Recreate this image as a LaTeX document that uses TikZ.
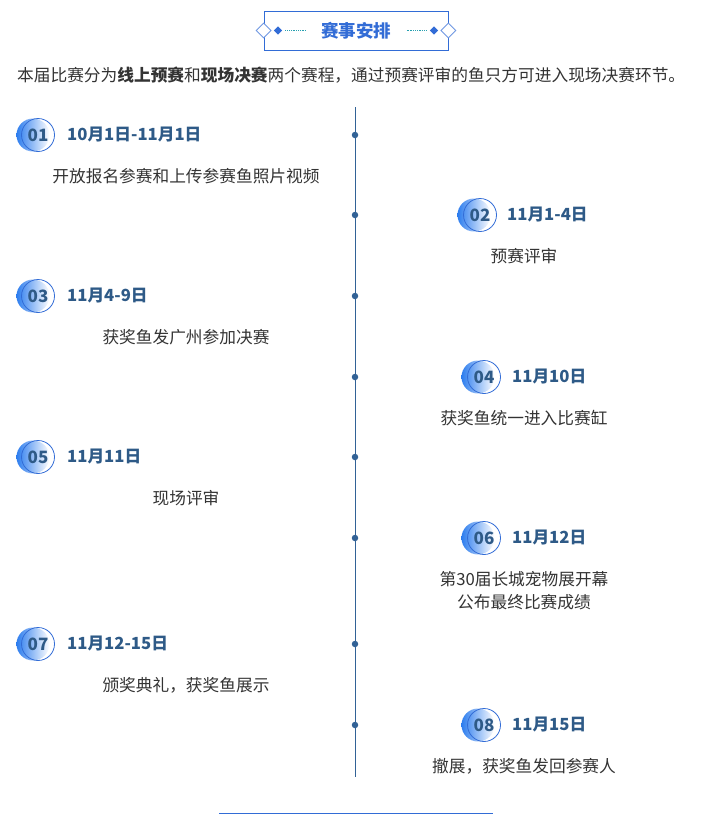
\documentclass[tikz,border=0pt]{standalone}
\usepackage{fontspec}
\setmainfont{Noto Sans CJK SC}
\usetikzlibrary{shapes.geometric,positioning}
\definecolor{titleblue}{RGB}{50,108,214}
\definecolor{darkslate}{RGB}{46,90,135}
\definecolor{badgeblue}{RGB}{45,125,238}
\definecolor{linesteel}{RGB}{50,98,150}
\definecolor{textgray}{RGB}{51,51,51}
\definecolor{dotteal}{RGB}{40,160,176}

\begin{document}
\begin{tikzpicture}[
x=1pt, y=-1pt,
every node/.style={font=\fontsize{16.7}{23}\selectfont, text=textgray, inner sep=0pt},
badge/.style={circle, minimum size=33pt, draw=titleblue, line width=0.8pt, text=darkslate, font=\fontsize{17}{17}\selectfont\bfseries},
datetext/.style={anchor=west, text=darkslate, font=\fontsize{16.7}{17}\selectfont\bfseries},
desctext/.style={align=center},
tick/.style={circle, fill=linesteel, minimum size=6.5pt},
framediamond/.style={diamond, draw=titleblue!70, fill=white, line width=0.9pt, minimum size=15pt},
smalldiamond/.style={diamond, fill=titleblue, minimum size=8.5pt}
]
\useasboundingbox (0,0) rectangle (705,815);

% Title

\node[draw=titleblue, line width=0.8pt, minimum width=184pt, minimum height=39pt] (title) at (356,30.5) {};
\node[text=titleblue, font=\fontsize{17.5}{18}\selectfont\bfseries] at (title) {赛事安排};
\node[framediamond] (DL) at (title.west) {};
\node[framediamond] (DR) at (title.east) {};
\node[smalldiamond] (dl) at (278,30.5) {};
\node[smalldiamond] (dr) at (434,30.5) {};
\draw[dotteal, densely dotted, line width=0.8pt] (dl.east) ++(3,0) -- ++(20,0);
\draw[dotteal, densely dotted, line width=0.8pt] (dr.west) ++(-3,0) -- ++(-20,0);

% Intro

\node[anchor=west] (intro) at (17,75) {本届比赛分为\textbf{线上预赛}和\textbf{现场决赛}两个赛程，通过预赛评审的鱼只方可进入现场决赛环节。};

% Timeline axis

\coordinate (axtop) at (355,107);
\coordinate (axbot) at (355,777);
\draw[linesteel, line width=1pt] (axtop) -- (axbot);
\node[tick] (T1) at (355,135) {};
\node[tick] (T2) at (355,215) {};
\node[tick] (T3) at (355,296) {};
\node[tick] (T4) at (355,377) {};
\node[tick] (T5) at (355,457) {};
\node[tick] (T6) at (355,538) {};
\node[tick] (T7) at (355,644) {};
\node[tick] (T8) at (355,725) {};

% Step 01

\shade[left color=badgeblue, right color=white] (33,135) circle (16.5);
\node[badge] (B1) at (38,135) {01};
\node[datetext] (D1) at (67,135) {10月1日-11月1日};
\node[desctext] (S1) at (186,176) {开放报名参赛和上传参赛鱼照片视频};

% Step 02

\shade[left color=badgeblue, right color=white] (474,215) circle (16.5);
\node[badge] (B2) at (480,215) {02};
\node[datetext] (D2) at (507,215) {11月1-4日};
\node[desctext] (S2) at (524,256) {预赛评审};

% Step 03

\shade[left color=badgeblue, right color=white] (33,296) circle (16.5);
\node[badge] (B3) at (38,296) {03};
\node[datetext] (D3) at (67,296) {11月4-9日};
\node[desctext] (S3) at (186,337) {获奖鱼发广州参加决赛};

% Step 04

\shade[left color=badgeblue, right color=white] (478,377) circle (16.5);
\node[badge] (B4) at (484,377) {04};
\node[datetext] (D4) at (512,377) {11月10日};
\node[desctext] (S4) at (524,418) {获奖鱼统一进入比赛缸};

% Step 05

\shade[left color=badgeblue, right color=white] (33,457) circle (16.5);
\node[badge] (B5) at (38,457) {05};
\node[datetext] (D5) at (67,457) {11月11日};
\node[desctext] (S5) at (186,498) {现场评审};

% Step 06

\shade[left color=badgeblue, right color=white] (478,538) circle (16.5);
\node[badge] (B6) at (484,538) {06};
\node[datetext] (D6) at (512,538) {11月12日};
\node[desctext] (S6) at (524,591) {第30届长城宠物展开幕\\公布最终比赛成绩};

% Step 07

\shade[left color=badgeblue, right color=white] (33,644) circle (16.5);
\node[badge] (B7) at (38,644) {07};
\node[datetext] (D7) at (67,644) {11月12-15日};
\node[desctext] (S7) at (186,685) {颁奖典礼，获奖鱼展示};

% Step 08

\shade[left color=badgeblue, right color=white] (478,725) circle (16.5);
\node[badge] (B8) at (484,725) {08};
\node[datetext] (D8) at (512,725) {11月15日};
\node[desctext] (S8) at (524,766) {撤展，获奖鱼发回参赛人};

% Bottom rule

\coordinate (ruleL) at (219,813.5);
\coordinate (ruleR) at (493,813.5);
\draw[titleblue, line width=1.5pt] (ruleL) -- (ruleR);

\end{tikzpicture}
\end{document}
